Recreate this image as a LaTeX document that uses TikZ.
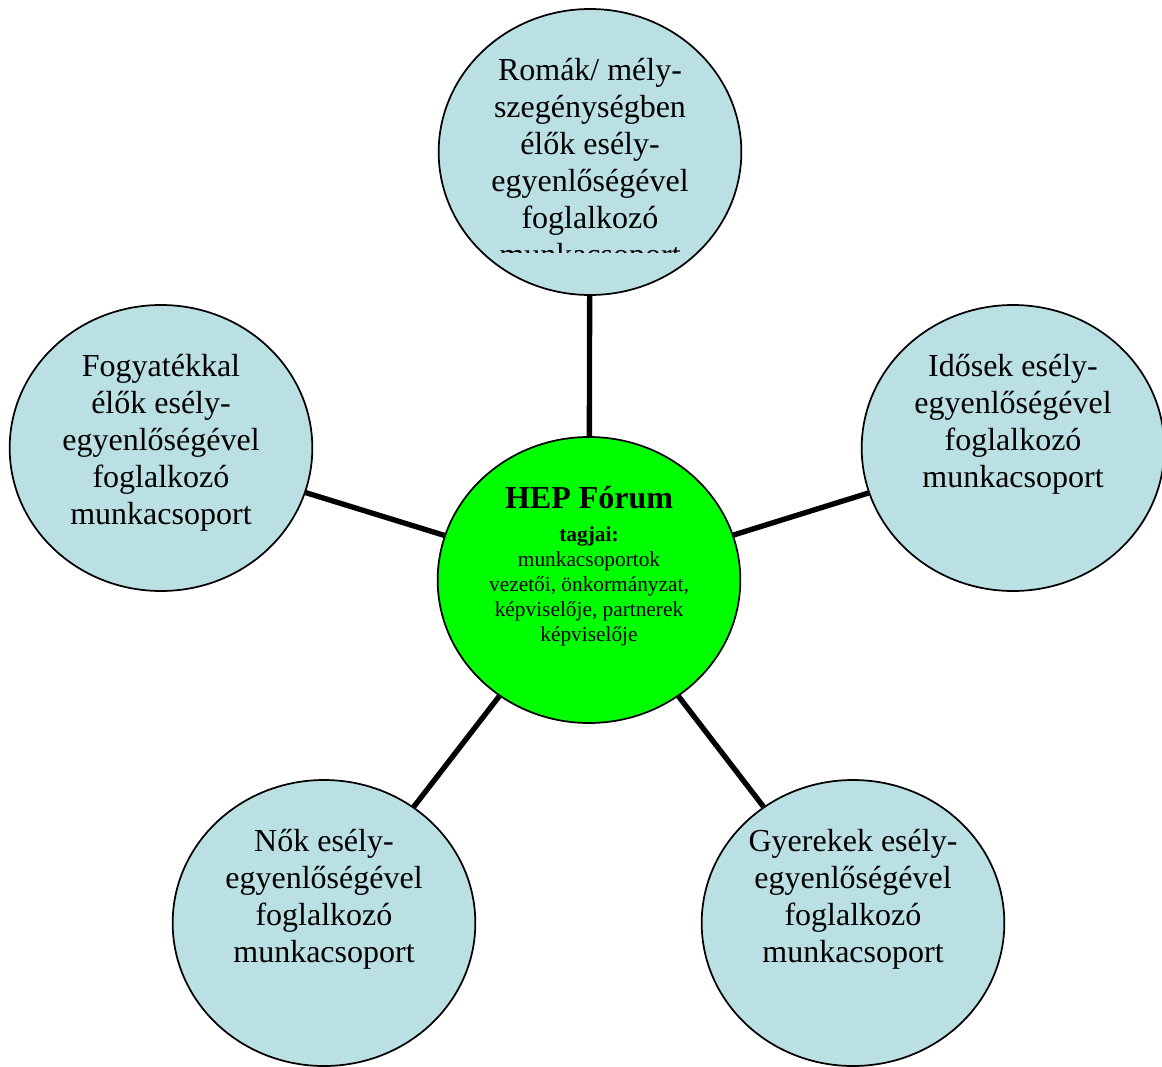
\documentclass[tikz,border=0pt]{standalone}
\usepackage{fontspec}
\setmainfont{Liberation Serif}
\usetikzlibrary{shapes.geometric}
\definecolor{groupblue}{RGB}{186,224,228}
\definecolor{forumgreen}{RGB}{0,255,0}
\begin{document}
\begin{tikzpicture}[x=0.75pt, y=-0.75pt,
  group/.style={ellipse, draw, line width=1.3pt, fill=groupblue, minimum width=227pt, minimum height=214.5pt, inner sep=0pt},
  forum/.style={group, fill=forumgreen},
  grouptext/.style={anchor=north, align=center, inner sep=0pt, font=\fontsize{24}{27.75}\selectfont},
  forumtext/.style={anchor=north, align=center, inner sep=0pt, font=\fontsize{16}{18.75}\selectfont},
  link/.style={line width=4pt}]
\useasboundingbox (0,0) rectangle (1162,1066);

% Working groups and the forum
\node[forum] (forum) at (589,580) {};
\node[group] (roma) at (590,152) {};
\node[group] (fogyatek) at (161,448) {};
\node[group] (idosek) at (1013,448) {};
\node[group] (nok) at (324,923) {};
\node[group] (gyerekek) at (853,923) {};

% Links from the forum
\foreach \g in {roma, fogyatek, idosek, nok, gyerekek} {
  \draw[link] (forum) -- (\g);
}

% Texts
\node[forumtext] (forum-txt) at ([yshift=-37.5pt]forum.north)
  {{\fontsize{24}{27}\selectfont\bfseries HEP Fórum}\\[6pt] \textbf{tagjai:}\\ munkacsoportok\\ vezetői, önkormányzat,\\ képviselője, partnerek\\ képviselője};
\begin{scope}
\clip (430,0) rectangle (750,252);
\node[grouptext] (roma-txt) at ([yshift=-37.5pt]roma.north)
  {Romák/ mély-\\ szegénységben\\ élők esély-\\ egyenlőségével\\ foglalkozó\\ munkacsoport};
\end{scope}
\node[grouptext] (fogyatek-txt) at ([yshift=-37.5pt]fogyatek.north)
  {Fogyatékkal\\ élők esély-\\ egyenlőségével\\ foglalkozó\\ munkacsoport};
\node[grouptext] (idosek-txt) at ([yshift=-37.5pt]idosek.north)
  {Idősek esély-\\ egyenlőségével\\ foglalkozó\\ munkacsoport};
\node[grouptext] (nok-txt) at ([yshift=-37.5pt]nok.north)
  {Nők esély-\\ egyenlőségével\\ foglalkozó\\ munkacsoport};
\node[grouptext] (gyerekek-txt) at ([yshift=-37.5pt]gyerekek.north)
  {Gyerekek esély-\\ egyenlőségével\\ foglalkozó\\ munkacsoport};
\end{tikzpicture}
\end{document}
